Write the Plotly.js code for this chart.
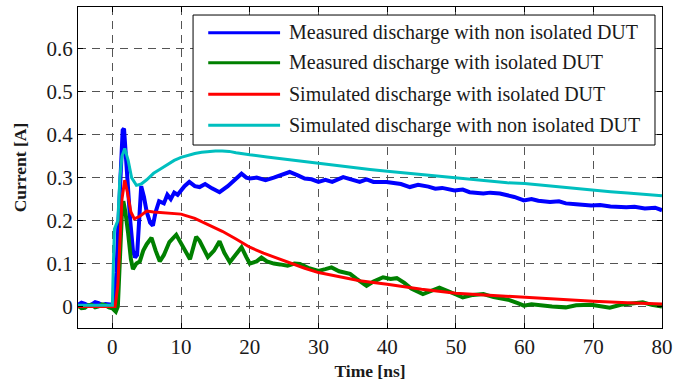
<!DOCTYPE html>
<html>
<head>
<meta charset="utf-8">
<script src="https://cdn.plot.ly/plotly-3.0.1.min.js"></script>
<style>html,body{margin:0;padding:0;background:#fff;}#chart{width:685px;height:385px;}</style>
</head>
<body>
<div id="chart"></div>
<script>
// Measured discharge with non isolated DUT (blue)
const blueT = [-5,-4.5,-4,-3.5,-3,-2.5,-2,-1.5,-1,-0.5,0,0.3,0.6,0.9,1.2,1.5,1.7,1.9,2.2,2.6,3.0,3.3,3.6,3.9,4.2,4.6,5.0,5.5,5.9,6.3,6.8,7.5,8,8.5,9,9.5,10,10.5,11.2,12,12.7,13.5,14.5,15.6,16.8,17.5,18.2,18.8,19.5,20,21,22.3,23.5,24.5,25.8,27,28,29,30,31,32,33.6,35,36,37,38,39.9,41,42,43.3,44.5,46,47,48,49.8,51,52,54,55,56.4,57.8,58.5,59.9,61,62,63.7,65,66,67.5,69.7,71,72.5,74.8,76,77.5,79,80];
const blueV = [0.004,0.009,0.006,0.002,0.005,0.010,0.008,0.003,0.006,0.004,0.004,0.02,0.08,0.20,0.33,0.41,0.414,0.36,0.30,0.20,0.13,0.114,0.12,0.22,0.28,0.255,0.22,0.195,0.188,0.22,0.245,0.24,0.26,0.25,0.265,0.26,0.27,0.28,0.29,0.28,0.278,0.285,0.275,0.266,0.28,0.29,0.30,0.309,0.30,0.298,0.30,0.294,0.30,0.305,0.313,0.305,0.298,0.296,0.29,0.295,0.29,0.301,0.294,0.29,0.296,0.29,0.29,0.288,0.285,0.278,0.283,0.279,0.274,0.276,0.27,0.272,0.266,0.263,0.265,0.263,0.259,0.255,0.247,0.25,0.246,0.243,0.245,0.24,0.238,0.235,0.236,0.233,0.231,0.232,0.228,0.23,0.224];

// Measured discharge with isolated DUT (green)
const greenT = [-5,-4.5,-4,-3.5,-3,-2.5,-2,-1.5,-1,-0.5,0,0.5,0.8,1.1,1.4,1.6,1.9,2.3,2.7,3.0,3.5,4.0,4.5,5.0,5.7,6.3,6.9,7.5,8.3,9.3,10.3,11.3,12.2,12.7,13.9,14.8,15.6,16.3,17.1,18.0,18.8,19.5,20,21,21.7,22.5,23.5,24.4,25.5,26.5,27.3,28.5,30,31,31.9,33,34.6,35.5,37,38,39.4,40.5,41.4,42.5,43.5,45.2,46.5,47.6,49,51,52.5,54,55.5,57.8,59,59.9,61,62.5,64,66,67.5,69.7,71,72.4,74,75.5,77.2,78.5,80];
const greenV = [0.002,-0.004,-0.003,0.003,0.004,-0.002,0.0,0.005,0.003,-0.002,-0.004,-0.012,0.0,0.12,0.22,0.245,0.22,0.17,0.11,0.087,0.10,0.105,0.13,0.145,0.16,0.13,0.105,0.12,0.15,0.167,0.14,0.11,0.162,0.153,0.115,0.13,0.152,0.125,0.103,0.12,0.138,0.115,0.10,0.105,0.114,0.105,0.10,0.098,0.095,0.10,0.099,0.09,0.083,0.087,0.091,0.082,0.076,0.065,0.048,0.058,0.068,0.064,0.066,0.055,0.042,0.029,0.038,0.044,0.035,0.021,0.027,0.029,0.022,0.015,0.008,0.002,0.005,0.002,0.0,-0.002,0.003,0.004,0.0,-0.003,0.004,0.006,0.010,0.004,0.0];

// Simulated discharge with isolated DUT (red)
const redT = [-5,0,0.4,0.8,1.1,1.4,1.8,2.2,2.7,3.2,4,5,6,8,10,12,14,16,18,20,22,25,28,30,33,36,40,45,50,55,60,65,70,75,80];
const redV = [0.0,0.0,0.0,0.05,0.15,0.25,0.294,0.265,0.22,0.204,0.21,0.222,0.22,0.218,0.215,0.205,0.19,0.175,0.157,0.138,0.124,0.106,0.089,0.079,0.07,0.06,0.052,0.04,0.031,0.026,0.021,0.016,0.012,0.009,0.006];

// Simulated discharge with non isolated DUT (cyan)
const cyanT = [-5,0,0.15,0.3,0.8,1.1,1.4,1.8,2.3,2.8,3.5,4.2,5,6,7,8,9,10,11,12,13,14,15,16,17,18,19,20,22.5,25,27.5,30,32.5,35,37.5,40,42.5,45,47.5,50,52.5,55,57.5,60,62.5,65,67.5,70,72.5,75,77.5,80];
const cyanV = [0.003,0.003,0.10,0.18,0.20,0.30,0.35,0.368,0.34,0.30,0.282,0.285,0.295,0.31,0.32,0.33,0.34,0.347,0.352,0.356,0.359,0.361,0.362,0.362,0.361,0.358,0.355,0.353,0.348,0.343,0.338,0.333,0.328,0.323,0.319,0.315,0.311,0.307,0.303,0.299,0.295,0.292,0.288,0.286,0.282,0.278,0.274,0.270,0.267,0.264,0.261,0.258];

const seriesNames = [
  'Measured discharge with non isolated DUT',
  'Measured discharge with isolated DUT',
  'Simulated discharge with isolated DUT',
  'Simulated discharge with non isolated DUT'
];
const seriesColors = ['#0000ff', '#008000', '#ff0000', '#00bfbf'];

const xTicks = [0,10,20,30,40,50,60,70,80];
const yTicks = [0,0.1,0.2,0.3,0.4,0.5,0.6];
const yTickText = ['0','0.1','0.2','0.3','0.4','0.5','0.6'];

const FONT = '"Liberation Serif", "Times New Roman", serif';
const TXT = '#1a1a1a';

const traces = [
  {x: blueT, y: blueV, mode: 'lines', name: seriesNames[0], line: {color: seriesColors[0], width: 4}},
  {x: greenT, y: greenV, mode: 'lines', name: seriesNames[1], line: {color: seriesColors[1], width: 4}},
  {x: redT, y: redV, mode: 'lines', name: seriesNames[2], line: {color: seriesColors[2], width: 3}},
  {x: cyanT, y: cyanV, mode: 'lines', name: seriesNames[3], line: {color: seriesColors[3], width: 3}}
];

// manual legend (box, sample lines, labels) in paper coordinates
const legX0 = 0.197, legX1 = 0.988, legY0 = 0.570, legY1 = 0.975;
const rowY = [0.920, 0.826, 0.728, 0.632];
const shapes = [{type: 'rect', xref: 'paper', yref: 'paper', x0: legX0, x1: legX1, y0: legY0, y1: legY1,
  line: {color: '#000', width: 1}, fillcolor: '#fff', layer: 'above'}];
const annotations = [];
seriesNames.forEach((nm, i) => {
  shapes.push({type: 'line', xref: 'paper', yref: 'paper', x0: 0.223, x1: 0.346, y0: rowY[i], y1: rowY[i],
    line: {color: seriesColors[i], width: 3}, layer: 'above'});
  annotations.push({xref: 'paper', yref: 'paper', x: 0.358, y: rowY[i], xanchor: 'left', yanchor: 'middle',
    text: nm, showarrow: false, font: {family: FONT, size: 20, color: TXT}});
});

const axisCommon = {
  showline: true, linecolor: '#000', linewidth: 1, mirror: 'ticks',
  ticks: 'inside', ticklen: 5, tickcolor: '#000',
  showgrid: true, gridcolor: '#555', gridwidth: 1, griddash: '8px,6px',
  zeroline: false, tickfont: {family: FONT, size: 21, color: TXT}
};

const layout = {
  width: 685, height: 385,
  margin: {l: 78, r: 23, t: 7, b: 57},
  paper_bgcolor: '#fff', plot_bgcolor: '#fff',
  showlegend: false,
  xaxis: Object.assign({}, axisCommon, {
    range: [-5, 80], tickvals: xTicks, ticktext: xTicks.map(String),
    title: {text: 'Time [ns]', font: {family: FONT, size: 17.5, color: TXT, weight: 'bold'}, standoff: 6}
  }),
  yaxis: Object.assign({}, axisCommon, {
    range: [-0.05, 0.697], tickvals: yTicks, ticktext: yTickText,
    title: {text: 'Current [A]', font: {family: FONT, size: 17.5, color: TXT, weight: 'bold'}, standoff: 15}
  }),
  shapes: shapes, annotations: annotations
};

Plotly.newPlot('chart', traces, layout, {staticPlot: true, displayModeBar: false});
</script>
</body>
</html>
